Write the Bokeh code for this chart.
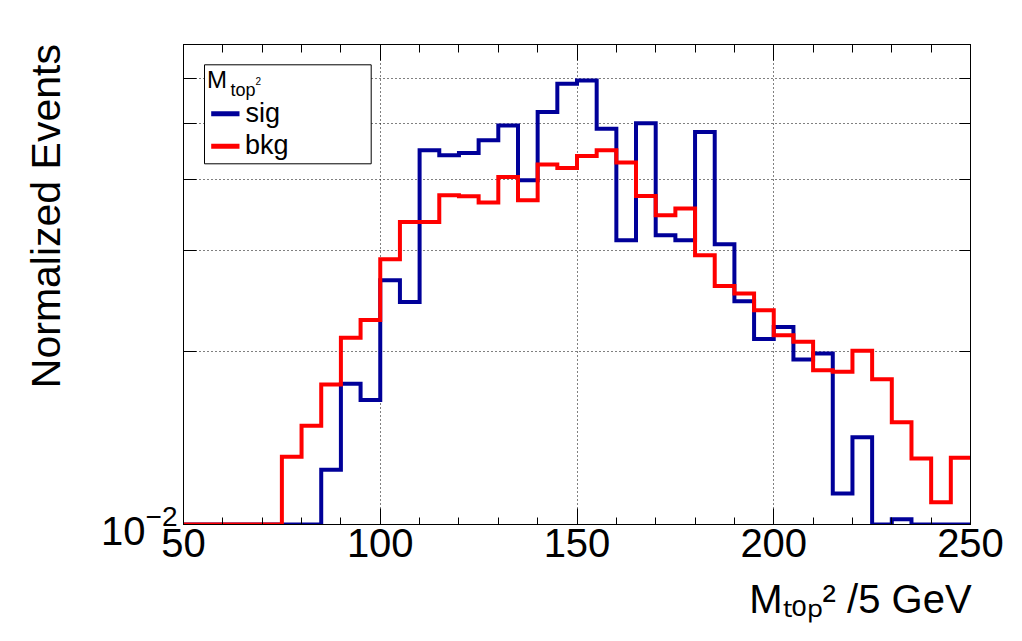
import numpy as np
from bokeh.plotting import figure
from bokeh.models import (LinearAxis, LogAxis, SingleIntervalTicker, FixedTicker,
                          CustomJSTickFormatter, Label, BoxAnnotation, LogTickFormatter)
from bokeh.embed import file_html
from bokeh.resources import INLINE

# ---------------- data ----------------
BIN_EDGES = list(range(50, 255, 5))  # 40 bins of 5 GeV, 50..250
SIG = [0, 0, 0, 0, 0, 0, 0,
       0.01246, 0.01759, 0.01648, 0.02667, 0.02444, 0.04492, 0.04403, 0.04444,
       0.04676, 0.04961, 0.03983, 0.05240, 0.05869, 0.05948, 0.04900, 0.03130,
       0.05010, 0.03194, 0.03130, 0.04834, 0.03081, 0.02451, 0.02105, 0.02211,
       0.01940, 0.01987, 0.01133, 0.01419, 0, 0.01021, 0, 0, 0]
BKG = [0, 0, 0, 0, 0,
       0.01313, 0.01486, 0.01755, 0.02116, 0.02272, 0.02901, 0.03370, 0.03370,
       0.03750, 0.03735, 0.03642, 0.04036, 0.03676, 0.04242, 0.04184, 0.04390,
       0.04492, 0.04276, 0.03740, 0.03461, 0.03555, 0.02948, 0.02606, 0.02528,
       0.02364, 0.02138, 0.02082, 0.01858, 0.01846, 0.02008, 0.01791, 0.01507,
       0.01304, 0.01093, 0.01307]
X_TICKS = [50, 100, 150, 200, 250]
Y_GRID = [0.02, 0.03, 0.04, 0.05, 0.06]
Y_LABELED = [0.01]
YMIN, YMAX = 0.01, 0.0687
X_TITLE = "M\u209c\u2092\u209a\u00b2 /5 GeV"
Y_TITLE = "Normalized Events"

FONT = "Liberation Sans"
BLUE = "#000099"
RED = "#ff0000"
NBSP = "\u00a0"

p = figure(width=1014, height=633, x_range=(50, 250), y_range=(YMIN, YMAX),
           y_axis_type="log", output_backend="svg", toolbar_location=None,
           min_border_left=183, min_border_right=44, min_border_top=44,
           min_border_bottom=109)
p.background_fill_color = "white"
p.border_fill_color = "white"
p.outline_line_color = "black"
p.outline_line_width = 1

# bottom axis (title pushed to the right end, as ROOT does)
xa = p.xaxis[0]
xa.ticker = SingleIntervalTicker(interval=50, num_minor_ticks=5)
xa.major_tick_in = 16
xa.major_tick_out = 0
xa.minor_tick_in = 7
xa.minor_tick_out = 0
xa.axis_line_color = "black"
xa.major_tick_line_color = "black"
xa.minor_tick_line_color = "black"
xa.major_label_text_font = FONT
xa.major_label_text_font_size = "40px"
xa.major_label_text_color = "black"
xa.major_label_standoff = 4
xa.axis_label = NBSP * 51 + X_TITLE
xa.axis_label_align = "center"
xa.axis_label_text_font = FONT
xa.axis_label_text_font_size = "40px"
xa.axis_label_text_font_style = "normal"
xa.axis_label_text_color = "black"
xa.axis_label_standoff = 17

# left axis: only 10^-2 labelled, inner ticks at the grid values
ya = p.yaxis[0]
ya.ticker = FixedTicker(ticks=Y_LABELED, minor_ticks=Y_GRID)
ya.formatter = LogTickFormatter()
ya.major_tick_in = 13
ya.major_tick_out = 0
ya.minor_tick_in = 13
ya.minor_tick_out = 0
ya.axis_line_color = "black"
ya.major_tick_line_color = "black"
ya.minor_tick_line_color = "black"
ya.major_label_text_font = FONT
ya.major_label_text_font_size = "40px"
ya.major_label_text_color = "black"
ya.major_label_standoff = 6
ya.axis_label = NBSP * 12 + Y_TITLE
ya.axis_label_align = "center"
ya.axis_label_text_font = FONT
ya.axis_label_text_font_size = "41px"
ya.axis_label_text_font_style = "normal"
ya.axis_label_text_color = "black"
ya.axis_label_standoff = 29

# top axis (ticks only)
ta = LinearAxis(ticker=SingleIntervalTicker(interval=50, num_minor_ticks=5),
                formatter=CustomJSTickFormatter(code="return ''"),
                major_tick_in=16, major_tick_out=0, minor_tick_in=8, minor_tick_out=0,
                major_label_text_font_size="0px", axis_line_color="black")
p.add_layout(ta, "above")

# right axis (ticks only)
ra = LogAxis(ticker=FixedTicker(ticks=Y_LABELED, minor_ticks=Y_GRID),
             formatter=CustomJSTickFormatter(code="return ''"),
             major_tick_in=0, major_tick_out=0, minor_tick_in=11, minor_tick_out=0,
             major_label_text_font_size="0px", axis_line_color="black")
p.add_layout(ra, "right")

# grids
p.xgrid.ticker = FixedTicker(ticks=X_TICKS)
p.ygrid.ticker = FixedTicker(ticks=Y_GRID)
for g in (p.xgrid, p.ygrid):
    g.grid_line_color = "black"
    g.grid_line_dash = "1 3"
    g.grid_line_width = 1

# histograms (zero bins drawn at the axis minimum, like ROOT)
edges = np.array(BIN_EDGES, dtype=float)
sig = np.maximum(np.array(SIG, dtype=float), YMIN)
bkg = np.maximum(np.array(BKG, dtype=float), YMIN)
p.step(edges, np.append(sig, sig[-1]), mode="after", line_color=BLUE,
       line_width=4, line_join="miter")
p.step(edges, np.append(bkg, bkg[-1]), mode="after", line_color=RED,
       line_width=4, line_join="miter")

def lab(text, x, y, size, align="left"):
    p.add_layout(Label(x=x, y=y, x_units="screen", y_units="screen", text=text,
                       text_font=FONT, text_font_size=size, text_color="black",
                       text_align=align, text_baseline="alphabetic"))

def box(l, r, b, t, fill, line=None):
    p.add_layout(BoxAnnotation(left=l, right=r, bottom=b, top=t,
                               left_units="screen", right_units="screen",
                               bottom_units="screen", top_units="screen",
                               fill_color=fill, fill_alpha=1.0,
                               line_color=line if line else fill,
                               line_alpha=1.0 if line else 0.0, line_width=1))

# legend
box(21, 187.7, 360.7, 459.7, "white", "black")
box(27.7, 56, 408.2, 413.2, BLUE)
box(27.7, 56, 375.8, 380.8, RED)
lab("M", 23.5, 445, "24px")
lab("top", 47, 435, "18px")
lab("2", 72, 444, "10px")
lab("sig", 62, 412, "27px")
lab("bkg", 61.5, 379.7, "27px")

open("out.html", "w").write(file_html(p, INLINE))
